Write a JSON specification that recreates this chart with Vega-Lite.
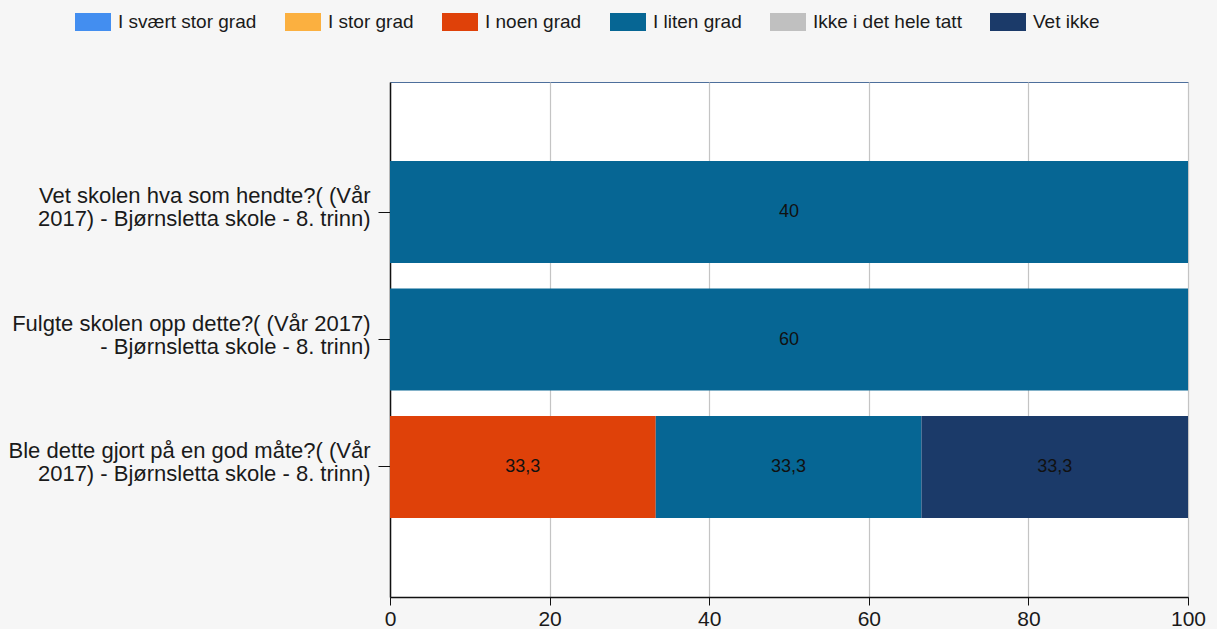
{
  "$schema": "https://vega.github.io/schema/vega-lite/v6.json",
  "width": 798,
  "height": 515,
  "autosize": {"type": "none"},
  "padding": {"left": 390, "top": 82, "right": 29, "bottom": 32},
  "background": "#f6f6f6",
  "config": {
    "view": {"fill": "white", "stroke": "#4d6f9c", "strokeWidth": 1},
    "font": "Liberation Sans"
  },
  "data": {
    "values": [
      {"q": "Vet skolen hva som hendte?( (Vår|2017) - Bjørnsletta skole - 8. trinn)", "cat": "I liten grad", "k": 4, "pct": 100, "label": "40"},
      {"q": "Fulgte skolen opp dette?( (Vår 2017)|- Bjørnsletta skole - 8. trinn)", "cat": "I liten grad", "k": 4, "pct": 100, "label": "60"},
      {"q": "Ble dette gjort på en god måte?( (Vår|2017) - Bjørnsletta skole - 8. trinn)", "cat": "I noen grad", "k": 3, "pct": 33.3, "label": "33,3"},
      {"q": "Ble dette gjort på en god måte?( (Vår|2017) - Bjørnsletta skole - 8. trinn)", "cat": "I liten grad", "k": 4, "pct": 33.3, "label": "33,3"},
      {"q": "Ble dette gjort på en god måte?( (Vår|2017) - Bjørnsletta skole - 8. trinn)", "cat": "Vet ikke", "k": 6, "pct": 33.4, "label": "33,3"}
    ]
  },
  "encoding": {
    "y": {
      "field": "q", "type": "nominal", "sort": null,
      "scale": {"paddingInner": 0.2, "paddingOuter": 0.62},
      "axis": {
        "title": null,
        "labelExpr": "split(datum.label, '|')",
        "labelFontSize": 22,
        "labelLineHeight": 23,
        "labelOffset": -16,
        "labelColor": "#1a1a1a",
        "labelPadding": 8,
        "labelLimit": 400,
        "tickSize": 12,
        "tickColor": "#111",
        "domainColor": "#111",
        "domainWidth": 1.5,
        "grid": false
      }
    }
  },
  "layer": [
    {
      "mark": {"type": "bar", "cornerRadius": 0},
      "encoding": {
        "x": {
          "field": "pct", "type": "quantitative", "stack": "zero",
          "scale": {"domain": [0, 100], "nice": false},
          "axis": {
            "title": null,
            "values": [0, 20, 40, 60, 80, 100],
            "labelFontSize": 21,
            "labelColor": "#1a1a1a",
            "labelPadding": 3,
            "labelFlush": false,
            "labelOverlap": false,
            "tickSize": 8,
            "tickColor": "#111",
            "domainColor": "#111",
            "domainWidth": 1.5,
            "grid": true,
            "gridColor": "#c4c4c4",
            "gridWidth": 1.2
          }
        },
        "order": {"field": "k", "type": "quantitative"},
        "color": {
          "field": "cat", "type": "nominal",
          "scale": {
            "domain": ["I svært stor grad", "I stor grad", "I noen grad", "I liten grad", "Ikke i det hele tatt", "Vet ikke"],
            "range": ["#438ef0", "#fbb040", "#df4109", "#066694", "#c0c0c0", "#1b3a69"]
          },
          "legend": {
            "title": null,
            "orient": "none",
            "direction": "horizontal",
            "legendX": -315,
            "legendY": -78,
            "symbolType": "M-1,-0.5H1V0.5H-1Z",
            "symbolSize": 1296,
            "symbolStrokeWidth": 0,
            "symbolOpacity": 1,
            "labelFontSize": 19,
            "labelColor": "#1a1a1a",
            "labelOffset": 7,
            "columnPadding": 28,
            "labelLimit": 300
          }
        }
      }
    },
    {
      "mark": {"type": "text", "fontSize": 18, "color": "#111", "baseline": "middle", "align": "center"},
      "encoding": {
        "x": {"field": "pct", "type": "quantitative", "stack": "zero", "bandPosition": 0.5},
        "order": {"field": "k", "type": "quantitative"},
        "detail": {"field": "cat"},
        "text": {"field": "label"}
      }
    }
  ]
}
